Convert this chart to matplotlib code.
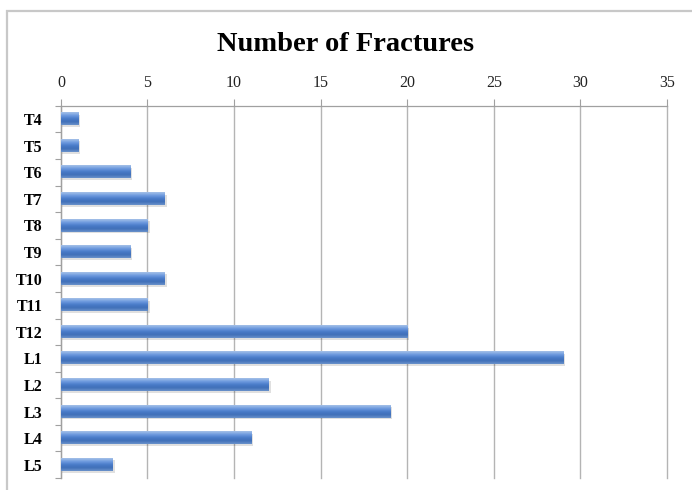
import matplotlib
matplotlib.use("Agg")
import matplotlib.pyplot as plt
from matplotlib.patches import Rectangle
from matplotlib.colors import LinearSegmentedColormap
import numpy as np

levels = ["T4", "T5", "T6", "T7", "T8", "T9", "T10", "T11", "T12",
          "L1", "L2", "L3", "L4", "L5"]
fractures = [1, 1, 4, 6, 5, 4, 6, 5, 20, 29, 12, 19, 11, 3]
xticks = [0, 5, 10, 15, 20, 25, 30, 35]

plt.rcParams['font.family'] = ['Liberation Serif', 'DejaVu Serif']

fig = plt.figure(figsize=(6.92, 4.90), dpi=100)

# chart frame, running off the right and bottom edges
fig.patches.append(Rectangle((0.010, -0.05), 1.05, 1.028, transform=fig.transFigure,
                             facecolor='white', edgecolor='#c8c8c8', linewidth=1.6, zorder=-10))

ax = fig.add_axes([0.088, 0.0245, 0.876, 0.7595])
ax.set_facecolor('none')

ypos = np.arange(len(levels))
bars = ax.barh(ypos, fractures, height=0.46, color='#4f81bd', zorder=3)

# gradient fill like the office chart style
grad = LinearSegmentedColormap.from_list('g', ['#a7c2e8', '#6f9be0', '#4a7cc9', '#3f6fb8', '#6c93cc'])
shade = np.linspace(0, 1, 64).reshape(-1, 1)
for b in bars:
    x0, y0 = b.get_x(), b.get_y()
    w, h = b.get_width(), b.get_height()
    # shadow under each bar
    ax.add_patch(Rectangle((x0, y0 + h * 0.15), w + 0.12, h, facecolor='#000000',
                           alpha=0.12, edgecolor='none', zorder=2))
    ax.imshow(shade, cmap=grad, aspect='auto', extent=(x0, x0 + w, y0 + h, y0),
              origin='upper', zorder=4, interpolation='bicubic')
    b.set_visible(False)

ax.set_xlim(0, 35)
ax.set_ylim(len(levels) - 0.5, -0.5)

ax.xaxis.tick_top()
ax.set_xticks(xticks)
ax.set_xticklabels([str(t) for t in xticks], fontsize=11.5, color='#222222')
ax.tick_params(axis='x', direction='out', length=5, width=0.8, color='#a0a0a0', pad=6)
ax.grid(axis='x', color='#b4b4b4', linewidth=1.0, zorder=1)
for gl in ax.get_xgridlines():
    gl.set_clip_on(False)

ax.set_yticks(ypos)
ax.set_yticklabels(levels, fontsize=11.5, fontweight='bold')
ax.set_yticks(np.arange(-0.5, len(levels), 1), minor=True)
ax.tick_params(axis='y', which='major', length=0, pad=13)
ax.tick_params(axis='y', which='minor', direction='out', length=4, width=0.8, color='#a0a0a0')

for side in ['right', 'bottom']:
    ax.spines[side].set_visible(False)
for side in ['left', 'top']:
    ax.spines[side].set_color('#a0a0a0')
    ax.spines[side].set_linewidth(0.9)

fig.text(0.5, 0.91, 'Number of Fractures', ha='center', va='center',
         fontsize=20.5, fontweight='bold')

fig.savefig('out.png', dpi=100)
